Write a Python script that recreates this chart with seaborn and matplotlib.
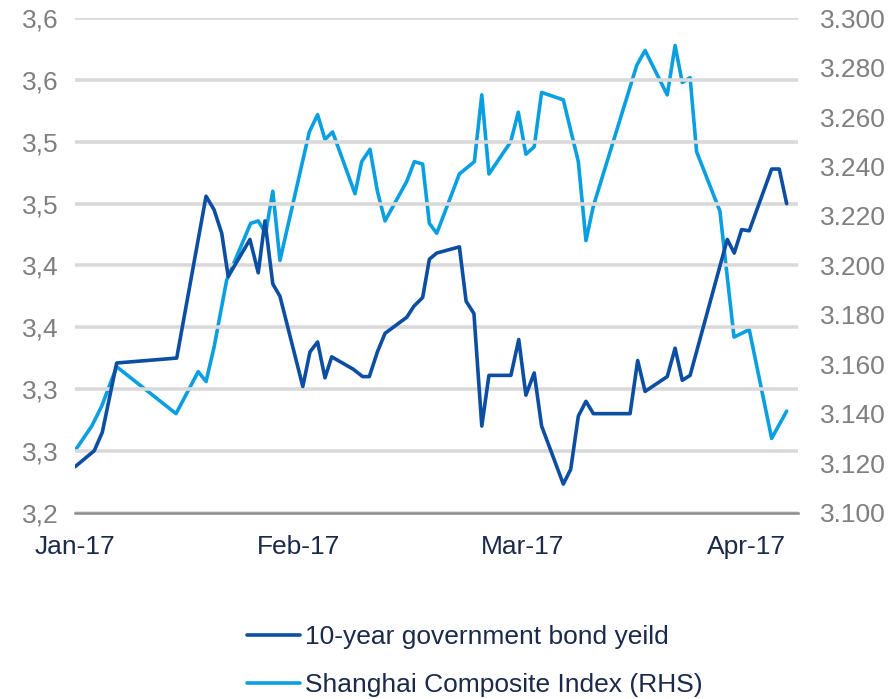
import matplotlib
matplotlib.use("Agg")
import matplotlib.pyplot as plt
import seaborn as sns
from decimal import Decimal, ROUND_HALF_UP
from matplotlib.ticker import FixedLocator, FuncFormatter

# ---- data (x = position in months since Jan-17) ----
bond_x = [0.000, 0.086, 0.122, 0.186, 0.454, 0.585, 0.621, 0.655, 0.684, 0.781,
          0.818, 0.848, 0.883, 0.915, 1.017, 1.049, 1.083, 1.116, 1.146, 1.242,
          1.284, 1.314, 1.350, 1.384, 1.481, 1.513, 1.552, 1.582, 1.615, 1.716,
          1.746, 1.781, 1.816, 1.848, 1.946, 1.981, 2.013, 2.050, 2.083, 2.180,
          2.213, 2.247, 2.281, 2.314, 2.478, 2.512, 2.545, 2.644, 2.679, 2.711,
          2.746, 2.877, 2.912, 2.943, 2.976, 3.010, 3.110, 3.144, 3.177]
bond_yield = [3.237, 3.250, 3.265, 3.321, 3.325, 3.456, 3.445, 3.426, 3.391, 3.421,
              3.394, 3.436, 3.385, 3.375, 3.302, 3.330, 3.338, 3.309, 3.326, 3.316,
              3.310, 3.310, 3.330, 3.345, 3.358, 3.367, 3.374, 3.405, 3.410, 3.415,
              3.371, 3.361, 3.270, 3.311, 3.311, 3.340, 3.295, 3.313, 3.270, 3.223,
              3.235, 3.278, 3.290, 3.280, 3.280, 3.323, 3.298, 3.310, 3.333, 3.307,
              3.311, 3.398, 3.421, 3.410, 3.429, 3.428, 3.478, 3.478, 3.450]

sh_x = [0.000, 0.075, 0.119, 0.186, 0.451, 0.550, 0.585, 0.621, 0.677, 0.784,
        0.818, 0.851, 0.883, 0.915, 1.046, 1.083, 1.116, 1.150, 1.250, 1.280,
        1.317, 1.350, 1.384, 1.481, 1.515, 1.552, 1.582, 1.615, 1.716, 1.783,
        1.816, 1.848, 1.945, 1.979, 2.013, 2.050, 2.083, 2.180, 2.247, 2.281,
        2.314, 2.508, 2.545, 2.644, 2.679, 2.711, 2.746, 2.775, 2.879, 2.942,
        3.010, 3.110, 3.177]
sh_index = [3125, 3135, 3143, 3159, 3140, 3157, 3153, 3167, 3194, 3217,
            3218, 3213, 3230, 3202, 3254, 3261, 3251, 3254, 3229, 3242,
            3247, 3230, 3218, 3234, 3242, 3241, 3217, 3213, 3237, 3242,
            3269, 3237, 3250, 3262, 3245, 3248, 3270, 3267, 3242, 3210,
            3224, 3281, 3287, 3269, 3289, 3274, 3276, 3246, 3222, 3171,
            3174, 3130, 3141]

month_pos = [0, 1, 2, 3]
month_labels = ["Jan-17", "Feb-17", "Mar-17", "Apr-17"]
left_ticks = [3.20, 3.25, 3.30, 3.35, 3.40, 3.45, 3.50, 3.55, 3.60]
right_ticks = [3100, 3120, 3140, 3160, 3180, 3200, 3220, 3240, 3260, 3280, 3300]

series_names = ["10-year government bond yeild", "Shanghai Composite Index (RHS)"]

# ---- style ----
sns.set_theme(style="white")
plt.rcParams["font.family"] = ["Liberation Sans", "DejaVu Sans"]

DARK = "#0B4EA2"
LIGHT = "#0A9FE0"
NAVY = "#1B2A4A"
GREY = "#7F7F7F"
FS = 19

fig = plt.figure(figsize=(8.89, 6.99), dpi=100)
ax = fig.add_axes([75 / 889, 1 - 512.5 / 699, (798 - 75) / 889, (512.5 - 18.3) / 699])
ax2 = ax.twinx()

sns.lineplot(x=bond_x, y=bond_yield, ax=ax, color=DARK, linewidth=2.6,
             label=series_names[0], legend=False, zorder=3)
sns.lineplot(x=sh_x, y=sh_index, ax=ax2, color=LIGHT, linewidth=2.6,
             label=series_names[1], legend=False, zorder=2)

ax.set_zorder(ax2.get_zorder() + 1)
ax.patch.set_visible(False)

ax.set_xlim(0, (798 - 75) / 224)
ax.set_ylim(3.2, 3.6)
ax2.set_ylim(3100, 3300)

def left_fmt(v, pos):
    d = Decimal(str(round(v, 2))).quantize(Decimal("0.1"), rounding=ROUND_HALF_UP)
    return str(d).replace(".", ",")

def right_fmt(v, pos):
    return f"{v:,.0f}".replace(",", ".")

ax.yaxis.set_major_locator(FixedLocator(left_ticks))
ax.yaxis.set_major_formatter(FuncFormatter(left_fmt))
ax2.yaxis.set_major_locator(FixedLocator(right_ticks))
ax2.yaxis.set_major_formatter(FuncFormatter(right_fmt))
ax.set_xticks(month_pos)
ax.set_xticklabels(month_labels)

ax.yaxis.grid(True, color="#D9D9D9", linewidth=2.6, zorder=0)
ax.xaxis.grid(False)
ax2.grid(False)
ax.set_axisbelow(True)

for a in (ax, ax2):
    for s in ("top", "left", "right", "bottom"):
        a.spines[s].set_visible(False)
ax.spines["bottom"].set_visible(True)
ax.spines["bottom"].set_color("#8C8C8C")
ax.spines["bottom"].set_linewidth(1.8)

ax.tick_params(axis="x", direction="out", length=5, width=1.8, color="#8C8C8C",
               labelsize=FS, labelcolor=NAVY, pad=11)
ax.tick_params(axis="y", length=0, labelsize=FS, labelcolor=GREY, pad=12)
ax2.tick_params(axis="y", length=0, labelsize=FS, labelcolor=GREY, pad=16)
ax.set_xlabel("")
ax.set_ylabel("")
ax2.set_ylabel("")

h1, l1 = ax.get_legend_handles_labels()
h2, l2 = ax2.get_legend_handles_labels()
fig.legend(h1 + h2, l1 + l2, loc="upper left", bbox_to_anchor=(247 / 889, 1 - 625 / 699),
           frameon=False, fontsize=FS, labelcolor=NAVY, handlelength=2.0,
           handletextpad=0.2, labelspacing=0.9, borderpad=0, borderaxespad=0)

fig.savefig("out.png", dpi=100)
